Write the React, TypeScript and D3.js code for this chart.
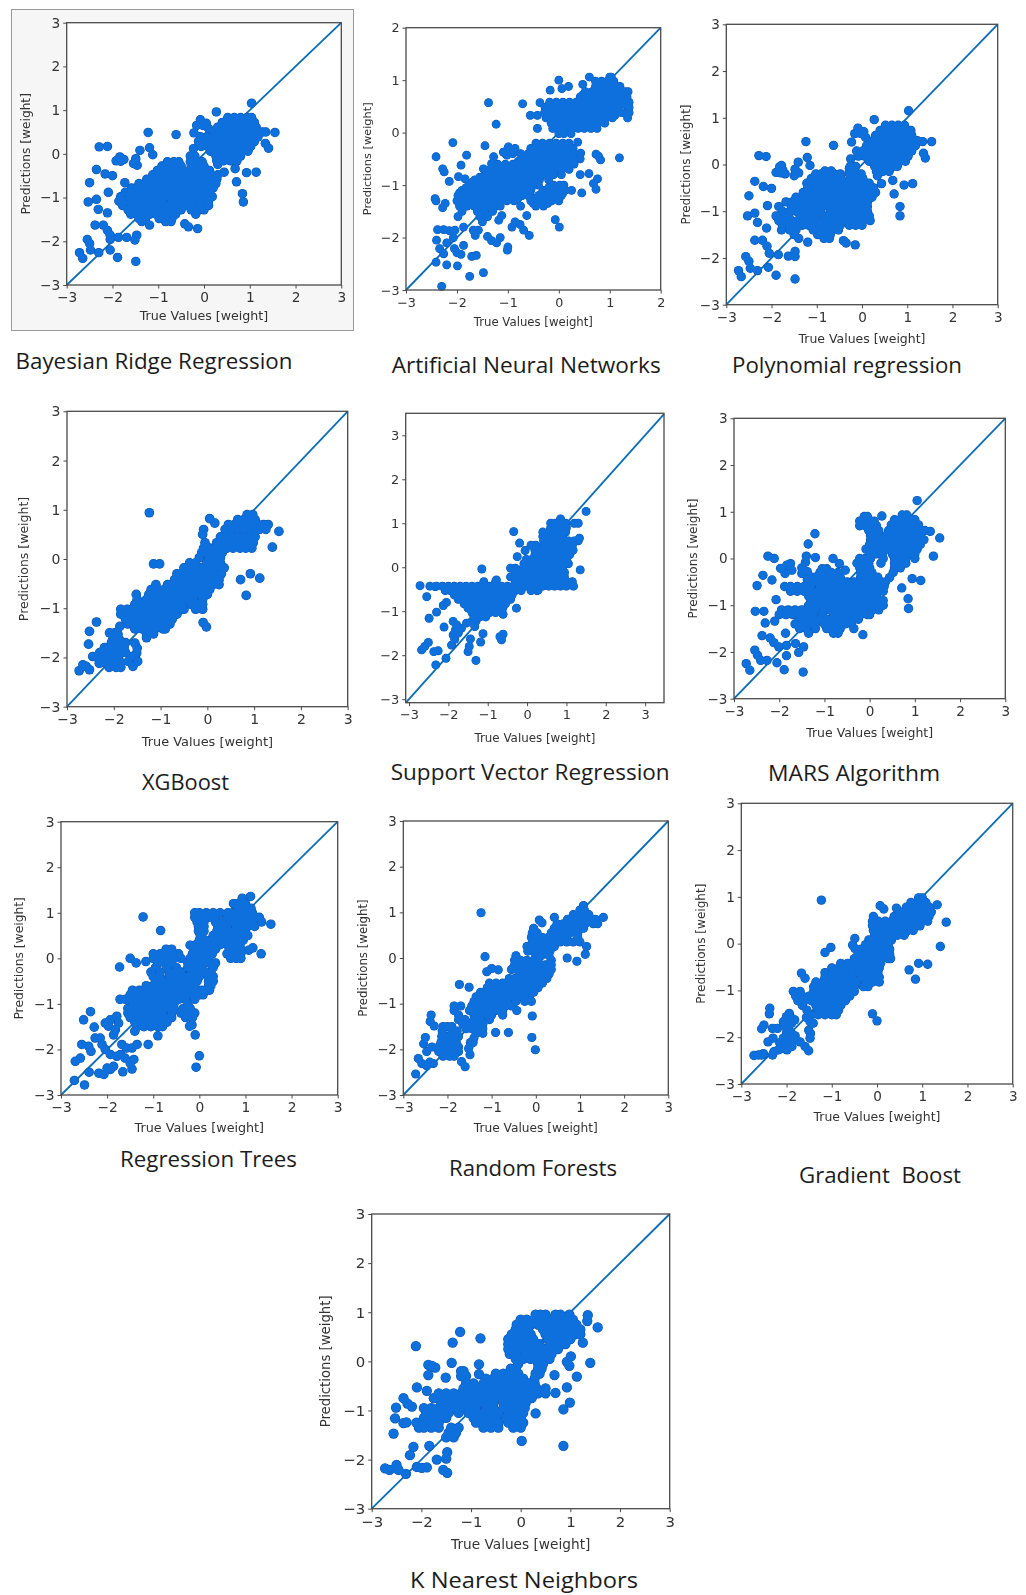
import React, { useEffect, useRef } from 'react';
import * as d3 from 'd3';

// every row is [y, x, x, x ...], loose points are [x, y]
const bayesianRows = [
  [.83,.52,.66,.8,.94,1.04],[.72,.4,.54,.68,.82,.96,1.1],[.61,.3,.44,.58,.72,.86,1,1.14],
  [.5,.22,.36,.5,.64,.78,.92,1.06,1.2,1.28],[.39,-.08,.06,.2,.34,.48,.62,.76,.9,1.04,1.18],
  [.28,-.12,.02,.16,.3,.44,.58,.72,.86,1,1.1],[.17,-.06,.08,.22,.36,.5,.64,.78,.92,1.02],
  [.06,.14,.28,.42,.56,.7,.84,.96],[-.05,-.3,-.2,.26,.4,.54,.68,.8],[-.16,.28,.42,.58,.72],[-.24,.3],
  [-.18,-.8,-.66,-.55,-.3,-.16,-.04],[-.28,-.92,-.78,-.64,-.5,-.28,-.14,0],
  [-.38,-1.02,-.88,-.74,-.6,-.46,-.3,-.16,-.02,.12],[-.48,-1.12,-.98,-.84,-.7,-.56,-.42,-.28,-.14,0,.14,.3],
  [-.58,-1.25,-1.1,-.96,-.82,-.68,-.54,-.4,-.26,-.12,.04,.18,.28],
  [-.68,-1.42,-1.28,-1.14,-1,-.86,-.72,-.58,-.44,-.3,-.16,-.02,.12,.26],
  [-.78,-1.58,-1.44,-1.3,-1.16,-1.02,-.88,-.74,-.6,-.46,-.32,-.18,-.04,.1,.2],
  [-.88,-1.72,-1.58,-1.44,-1.3,-1.16,-1,-.86,-.72,-.58,-.44,-.3,-.16,-.02,.12],
  [-.98,-1.82,-1.62,-1.48,-1.34,-1.2,-1.06,-.92,-.78,-.64,-.5,-.36,-.22,-.08,.06,.18],
  [-1.08,-1.86,-1.7,-1.52,-1.38,-1.22,-1.06,-.92,-.7,-.56,-.42,-.28,-.14,0,.1],
  [-1.18,-1.78,-1.58,-1.4,-1.26,-1.12,-.98,-.84,-.7,-.56,-.42,-.28,-.1,.1],
  [-1.28,-1.66,-1.48,-1.34,-1.2,-1.06,-.92,-.78,-.64,-.5,-.28,-.14,0],
  [-1.38,-1.6,-1.46,-1.32,-1.18,-1.04,-.9,-.76,-.62,-.18],[-1.48,-1.42,-1.28,-.98,-.84,-.7],[-1.55,-.84,-.72],
];
const bayesianLoose = [
  [1.04,1.16],[.27,.96],[1.55,.49],[1.35,.5],[-1.22,.49],[-.61,.44],[-2.29,.16],[-2.11,.17],[-1.19,.14],[-1.4,.08],[-1.12,-.02],
  [1.34,.24],[1.41,.13],[-1.84,-.07],[-1.75,-.13],[-1.92,-.16],[-1.82,-.17],[-1.49,-.11],[-1.54,-.22],[-1.46,-.26],[-2.35,-.36],
  [-2.16,-.46],[-2,-.5],[-2.5,-.66],[-2.09,-.88],[-1.73,-.66],[-2.53,-1.1],[-2.35,-1.04],[-2.31,-1.27],[-2.11,-1.35],[-2.38,-1.63],
  [-2.2,-1.63],[-2.11,-1.75],[-2.05,-1.86],[-2.05,-1.96],[-1.87,-1.91],[-1.69,-1.91],[-1.51,-1.97],[-1.47,-1.86],[-2.55,-1.96],
  [-2.5,-2.05],[-2.48,-2.2],[-2.3,-2.26],[-2.05,-2.2],[-2.72,-2.26],[-2.65,-2.39],[-1.89,-2.37],[-1.49,-2.46],[-.42,-1.6],[-.34,-1.67],
  [-.14,-1.71],[-1.19,-1.63],[-1.36,-1.55],[.71,-.64],[.68,-.34],[.93,-.43],[1.14,-.42],[.84,-.91],[.86,-1.1],[.44,-.42],
  [-.08,.78],[-.16,.65],[-.02,.65],[.1,.58],[.05,.7],[-.22,.48],[-.23,.12],[-.25,-.07],
];

const annRows = [
  [1.06,1,1.03],[.98,.72,.84,.96,1.08],[.88,.72,.84,.96,1.08,1.2],[.78,.52,.65,.78,.91,1.04,1.17,1.3,1.36],
  [.73,.48,.61,.74,.87,1,1.13,1.26],
  [.68,.42,.55,.68,.81,.94,1.07,1.2,1.34],[.58,-.18,-.05,.08,.21,.34,.47,.6,.73,.86,.99,1.12,1.24,1.38],
  [.53,-.1,.04,.17,.3,.43,.56,.69,.82,.95,1.08,1.2,1.32],
  [.48,-.27,-.14,-.01,.12,.25,.38,.51,.64,.77,.9,1.03,1.16,1.38],[.43,-.2,-.07,.06,.19,.32,.45,.58,.71,.84,.97,1.1],
  [.38,-.28,-.15,-.02,.11,.24,.37,.5,.63,.76,.89,1.02,1.15,1.24,1.38],[.33,-.18,-.05,.08,.21,.34,.47,.6,.73,.86,.99,1.1],
  [.28,-.25,-.12,.01,.14,.27,.4,.53,.66,.79,.92,1.05,1.35],[.23,-.08,.05,.18,.31,.44,.57,.7,.83],[.18,-.15,-.02,.11,.24,.37,.5,.63,.76,.9],
  [.13,-.05,.08,.2,.33,.46,.58,.7],[.08,-.12,0,.12,.25,.38,.5,.63,.75],[-.02,0,.1,.24],
  [-.2,-.45,-.32,-.18,-.05,.08,.2],[-.3,-1,-.86,-.55,-.42,-.28,-.14,0,.14,.28],[-.35,-.5,-.36,-.22,-.08,.06,.2],
  [-.4,-1.05,-.9,-.75,-.6,-.46,-.32,-.18,-.04,.1,.22,.3],[-.45,-.65,-.5,-.37,-.23,-.09,.05,.18],
  [-.5,-.72,-.58,-.44,-.3,-.16,-.02,.12,.28],[-.55,-.8,-.66,-.52,-.38,-.24,-.1,.04,.18],[-.6,-1.2,-1.05,-.9,-.76,-.62,-.48,-.34,-.2,-.06,.08,.22,.3],
  [-.65,-1.27,-1.13,-.99,-.85,-.71,-.57,-.43,-.29,-.15,-.01,.13],
  [-.7,-1.35,-1.2,-1.06,-.92,-.78,-.64,-.5,-.36,-.22,-.08,.06,.2],[-.75,-1.4,-1.26,-1.12,-.98,-.84,-.7,-.56,-.42,-.28,-.14],
  [-.8,-1.45,-1.3,-1.16,-1.02,-.88,-.74,-.6,-.46,-.32,-.18,-.1,.05],[-.85,-1.55,-1.41,-1.27,-1.13,-.99,-.85,-.71,-.57,-.43],
  [-.9,-1.65,-1.5,-1.36,-1.22,-1.08,-.94,-.8,-.66,-.52,-.38,-.2],[-.95,-1.7,-1.53,-1.39,-1.25,-1.11,-.97,-.83,-.69,-.55],
  [-1,-1.75,-1.6,-1.46,-1.32,-1.18,-1.04,-.9,-.76,-.62,-.48,-.4,-.1,.02,.1],[-1.05,-1.82,-1.68,-1.53,-1.39,-1.25,-1.11,-.97,-.83,-.69,-.2,-.05,.1],
  [-1.1,-1.9,-1.75,-1.6,-1.46,-1.32,-1.18,-1.04,-.9,-.76,-.62,-.55,-.3,-.16,-.02,.12,.25],
  [-1.15,-1.95,-1.8,-1.66,-1.52,-1.38,-1.24,-1.1,-.96,-.82,-.68,-.33,-.19,-.05,.08],
  [-1.2,-1.98,-1.84,-1.7,-1.56,-1.42,-1.28,-1.14,-1,-.86,-.72,-.6,-.4,-.26,-.12,.05],
  [-1.25,-1.92,-1.78,-1.64,-1.5,-1.36,-1.22,-1.08,-.94,-.8,-.5,-.33,-.2,-.06],
  [-1.3,-2,-1.86,-1.72,-1.58,-1.44,-1.3,-1.16,-1.02,-.88,-.55,-.42,-.28,-.14,0],[-1.35,-1.9,-1.76,-1.62,-1.48,-1.34,-1.2,-.5,-.36,-.22],
  [-1.4,-1.95,-1.8,-1.66,-1.52,-1.38,-1.24,-1.15,-.75,-.45,-.3],[-1.5,-1.9,-1.6,-1.46,-1.3],[-1.6,-1.98,-1.55,-1.4],[-1.7,-1.5],
];
const annLoose = [
  [-1.38,.57],[-.71,.55],[-.37,.57],[-1.23,.16],[-2.08,-.19],[-1.45,-.25],[-2.41,-.46],[-1.81,-.43],[-1.92,-.62],[-2.28,-.69],[-2.25,-.75],
  [-2.15,-.93],[-2.43,-1.26],[-2.41,-1.3],[-2.23,-1.35],[-2.28,-1.43],[-2.38,-1.85],[-2.26,-1.85],[-2.15,-1.87],[-2.04,-1.86],[-2.07,-2],
  [-2.4,-2.05],[-2.2,-2.1],[-2.34,-2.21],[-2.26,-2.31],[-2.05,-2.21],[-2,-2.29],[-1.92,-2.32],[-1.87,-2.15],[-1.71,-2.36],[-1.62,-2.34],
  [-2.41,-2.47],[-2.2,-2.52],[-1.99,-2.54],[-1.75,-2.74],[-1.48,-2.67],[-2.3,-2.93],[-1.4,-1.98],[-1.32,-2.06],[-1.22,-2.1],[-1.15,-2],
  [-1,-2.18],[-1.01,-2.24],[-1.18,-1.67],[-1.12,-1.58],[-.92,-1.8],[-.86,-1.7],[-.76,-1.75],[-.69,-1.86],[-.58,-1.96],[-.63,-1.58],
  [-1.68,-1.86],[-1.58,-1.86],[-1.64,-1.96],[-1.87,-1.8],[-.07,-1.66],[.01,-1.8],[.45,-1.15],[.42,-.8],[.59,-.78],[.76,-.88],[.68,-.97],
  [.73,-1.08],[.73,-.41],[.78,-.45],[.82,-.52],[1.19,-.48],[.43,-.39],[.42,-.5],[.37,-.18],[-.17,.81],[0,1],[.19,.88],[.06,.84],[.47,.92],
  [.6,1.06],[-.56,.33],[-.42,.33],[-.42,.08],[-1.09,-.37],[-.99,-.27],[-1.02,-.43],[-1.28,-.46],[-1.32,-.59],[-1.48,-.69],[-1.97,-.84],[-1.84,-.88],
];

const polyRows = [
  [.84,.52,.66,.8,.94],[.73,.4,.54,.68,.82,.96,1.08],[.62,.3,.44,.58,.72,.86,1,1.1],
  [.51,.24,.38,.5,.64,.78,.92,1.06,1.22],[.4,.1,.22,.34,.48,.62,.76,.9,1.04,1.18],
  [.29,-.12,.02,.16,.3,.44,.58,.72,.86,1,1.1],[.18,-.08,.06,.2,.34,.48,.62,.76,.9,1.02],
  [.07,.16,.3,.44,.58,.7,.84,.96],[-.04,-.26,-.14,.28,.42,.56,.68,.78],[-.15,-.28,.32,.46,.6],[-.24,.34],
  [-.14,-.82,-.68],[-.2,-1.02,-.9,-.76,-.62,-.48,-.28,-.14,-.02],[-.3,-1.12,-1,-.86,-.72,-.58,-.46,-.26,-.12,.02],
  [-.4,-1.22,-1.06,-.92,-.78,-.64,-.5,-.38,-.24,-.1,.06,.16],[-.5,-1.2,-1.02,-.88,-.74,-.6,-.46,-.32,-.18,-.04,.12,.26],
  [-.6,-1.3,-1.14,-1,-.86,-.72,-.58,-.44,-.3,-.16,-.02,.12,.3],[-.7,-1.46,-1.3,-1.16,-1.02,-.88,-.74,-.6,-.46,-.32,-.18,-.04,.1,.22],
  [-.8,-1.68,-1.54,-1.4,-1.26,-1.12,-.98,-.84,-.7,-.56,-.42,-.28,-.14,0,.12],[-.9,-1.84,-1.56,-1.42,-1.28,-1.14,-1,-.86,-.72,-.58,-.44,-.3,-.16,-.02,.12],
  [-1,-1.76,-1.6,-1.46,-1.3,-1.16,-1.02,-.92,-.7,-.56,-.42,-.28,-.14,0,.12],[-1.1,-1.9,-1.76,-1.62,-1.36,-1.2,-1.06,-.84,-.7,-.56,-.42,-.28,-.14,.02,.16],
  [-1.2,-1.84,-1.7,-1.56,-1.42,-1.28,-1.12,-.98,-.84,-.7,-.56,-.42,-.28,-.14,.02,.18],[-1.3,-1.76,-1.6,-1.46,-1.32,-1.18,-1.04,-.9,-.76,-.62,-.48,-.28,-.14,0],
  [-1.4,-1.78,-1.6,-1.46,-1.08,-.94,-.8,-.66,-.52],[-1.5,-1.5,-.98,-.84,-.7],[-1.58,-.84,-.72],
];
const polyLoose = [
  [1.03,1.15],[.27,.96],[1.54,.49],[1.34,.49],[-1.24,.49],[-.63,.41],[-2.28,.19],[-2.12,.17],[-1.21,.15],[-1.15,-.02],[-1.41,.05],
  [-2.37,-.36],[-2.18,-.47],[-2,-.51],[-2.5,-.67],[-2.09,-.88],[-2.53,-1.1],[-2.37,-1.04],[-2.31,-1.24],[-2.11,-1.36],[-2.37,-1.62],
  [-2.2,-1.62],[-2.1,-1.75],[-2.05,-1.9],[-1.85,-1.93],[-1.63,-1.96],[-1.48,-1.86],[-1.48,-1.97],[-2.57,-1.97],[-2.5,-2.07],[-2.47,-2.22],
  [-2.31,-2.27],[-2.07,-2.2],[-2.73,-2.27],[-2.67,-2.4],[-1.9,-2.37],[-1.48,-2.45],[-.41,-1.63],[-.35,-1.68],[-.15,-1.72],[-1.2,-1.66],
  [-1.4,-1.58],[.71,-.63],[.68,-.34],[.93,-.44],[1.12,-.41],[.84,-.9],[.84,-1.1],[.43,-.41],[1.36,.24],[1.4,.14],[-.23,.48],[-.09,.78],
  [-.16,.66],[-.02,.66],[.08,.58],[.04,.7],[-1.82,-.05],[-1.75,-.12],[-1.9,-.17],[-1.8,-.18],[-1.7,-.2],[-1.78,-.02],[-1.48,-.1],[-1.5,-.24],[-1.4,-.18],[-.25,.12],[-.28,-.08],
];

const xgbRows = [
  [.9,.85,.97],[.8,.65,.78,.9,1.02],[.7,.45,.58,.7,.82,.95,1.08,1.2,1.3],[.6,-.08,.38,.5,.62,.75,.88,1,1.12,1.25],
  [.5,-.1],[.45,.28,.4,.52,.65,.78,.9,1.02],[.33,-.05,.2,.35,.5,.65,.78,.9,.98],[.22,-.08,.05,.18,.32,.42,.55,.7,.82,.95],
  [.13,-.12,0,.1,.22,.32],[.03,-.17,.03,.15,.28],[-.08,-.38,-.25,-.02,.12,.28],[-.18,-.5,-.4,-.26,-.12,.02,.16,.28,.36],
  [-.3,-.65,-.55,-.42,-.28,-.14,0,.14,.3],[-.42,-.7,-.56,-.42,-.28,-.14,0,.14,.25],[-.52,-1.1,-.85,-.7,-.56,-.42,-.3,-.16,-.02,.12,.25],
  [-.62,-1.2,-1.06,-.92,-.78,-.64,-.5,-.36,-.22,-.08,.05],[-.72,-1.52,-1.25,-1.12,-.98,-.84,-.7,-.56,-.42,-.28,-.14,0],
  [-.82,-1.5,-1.3,-1.16,-1.02,-.88,-.74,-.6,-.46,-.3,-.1],[-.92,-1.55,-1.41,-1.27,-1.1,-.96,-.82,-.68,-.54,-.35,-.2,-.1],
  [-1.02,-1.85,-1.71,-1.57,-1.43,-1.29,-1.15,-1,-.86,-.72,-.58,-.5,-.25,-.1],[-1.12,-1.85,-1.71,-1.57,-1.43,-1.29,-1.15,-1.01,-.87,-.73,-.65],
  [-1.22,-1.75,-1.6,-1.46,-1.32,-1.18,-1.04,-.9,-.75],[-1.32,-1.7,-1.55,-1.4,-1.26,-1.12,-.98,-.8],[-1.42,-1.55,-1.4,-1.26,-1.12,-.95,-.9],[-1.52,-1.3,-1.15],[-1.6,-1.3],
  [-1.7,-2.05,-1.9,-1.75],[-1.8,-2.2,-2.05,-1.9,-1.78],[-1.9,-2.3,-2.15,-2,-1.85,-1.75],[-2,-2.35,-2.2,-2.05,-1.9],[-2.1,-2.2,-2,-1.85],[-2.2,-2.1,-1.95,-1.85],
];
const xgbLoose = [
  [-1.24,.94],[1.53,.56],[1.39,.24],[.71,-.42],[.92,-.3],[1.12,-.39],[.83,-.74],[-1.15,-.1],[-1.02,-.1],[-.09,-1.29],[-.02,-1.38],[-2.37,-1.28],
  [-2.52,-1.47],[-2.54,-1.73],[.05,.82],[.16,.73],[-2.74,-2.27],[-2.66,-2.15],[-2.52,-2.25],[-2.59,-2.18],[-1.87,-1.37],[-2.09,-1.5],[-1.98,-1.5],
  [-1.91,-1.53],[-2.02,-1.64],[-1.88,-1.64],[-1.81,-1.71],[-1.95,-1.74],[-1.81,-1.84],[-2.1,-1.88],[-2.24,-1.88],[-2.38,-1.98],[-1.98,-1.95],
  [-2.17,-2.02],[-2.31,-2.12],[-2.1,-2.12],[-1.95,-2.15],[-2.45,-1.98],[-1.55,-1.71],[-1.5,-1.81],[-1.51,-1.91],[-1.62,-1.98],[-1.69,-2.08],[-1.59,-2.18],[-1.49,-2.08],
];

const svrRows = [
  [-.43,-2.3,-2.15,-2,-1.85,-1.7,-1.55,-1.4,-1.25,-1.1,-.95,-.8,-.65,-.5,-.35,-.2,-.05,.1,.25,.4,.55,.7,.85,1,1.18],
  [-.53,-2.08,-1.95,-1.8,-1.65,-1.5,-1.35,-1.2,-1.05,-.9,-.75,-.6,-.45,-.3,-.15,.1,.25],[-.63,-1.85,-1.7,-1.55,-1.4,-1.25,-1.1,-.95,-.8,-.65,-.5,-.38],
  [-.73,-1.75,-1.6,-1.45,-1.3,-1.15,-1,-.85,-.7,-.55,-.42],[-.83,-1.6,-1.45,-1.3,-1.15,-1,-.85,-.7,-.55],[-.93,-1.5,-1.35,-1.2,-1.05,-.9,-.75,-.62],
  [-1.03,-1.4,-1.25,-1.1,-.95,-.8,-.65],[-1.13,-1.35,-1.2,-1.05],[-1.23,-1.4,-1.3],
  [-.33,-1.1,-.8,-.3,-.15,0,.1,.25,.4,.55,.7,.85,1,1.15],[-.22,-.42,-.28,-.1,.1,.3,.5,.65,.8,.95],[-.12,-.3,-.15,-.02,.1,.25,.38,.5,.65,.8,.95],
  [-.02,-.42,-.3,-.1,.02,.15,.3,.45,.6,.75,.9],[.08,-.08,.05,.2,.35,.48,.62,.75,.9,1.05],[.18,-.02,.12,.28,.42,.56,.7,.85,1],
  [.28,.2,.35,.5,.62,.78,.92,1.08],[.38,-.05,.2,.32,.5,.62,.75,.9,1.05,1.15],[.5,.1,.22,.42,.55,.7,.85,1,1.15],[.6,.42,.55,.7,.85,1.05,1.2,1.3],
  [.7,.4,.5,.6,.75,.9],[.8,.4,.55,.7,.85,.98],[.9,.6,.72,.85,1],[1,.6,.72,.85,.98,1.2,1.3],[1.1,.85],
];
const svrLoose = [
  [1.5,1.27],[-.34,.81],[-.19,.55],[-.25,.24],[-1.15,-.04],[1.35,-.06],[-2.72,-.42],[-2.55,-.67],[-2.3,-1.02],[-2.49,-1.16],[-2.11,-1.36],
  [-2.51,-1.71],[-2.6,-1.8],[-2.68,-1.88],[-2.37,-1.92],[-2.26,-1.9],[-2.32,-2.22],[-2.06,-2.07],[-1.3,-2.12],[-1.5,-1.92],[-1.47,-1.8],[-1.44,-1.63],
  [-1.18,-1.7],[-1.12,-1.51],[-.69,-1.58],[-.61,-1.52],[-.65,-1.65],[-2.47,-.43],[-2.34,-.44],[-2.05,-.8],[-2.13,-.87],[-.27,-.93],[-.61,-1.07],
  [.28,-.52],[-.78,-.29],[-1.88,-1.23],[-1.79,-1.31],[-1.88,-1.54],[-1.75,-1.5],[-1.92,-1.77],[-1.67,-1.39],[-1.54,-1.27],[-1.33,-1.35],[-1.82,-1.42],[-1.84,-1.64],[1.33,.66],[1.17,.39],
];

const marsRows = [
  [.9,-.12,-.05],[.8,-.22,-.1,.02,.1],[.7,-.22,-.1,.02,.15],[.6,-.02,.1,.2],[.5,.02,.12,.2],[.4,.02,.12,.2],
  [.93,.72,.82],[.83,.55,.68,.8,.92,1],[.72,.48,.6,.72,.85,.98,1.08],[.6,.42,.55,.68,.8,.92,1.05,1.15,1.22],[.5,.38,.5,.62,.75,.88,1,1.12],
  [.4,.3,.42,.55,.68,.8,.95,1.08,1.2],[.3,0,.12,.25,.38,.5,.62,.75,.88,1.02,1.12],[.2,-.08,.02,.15,.28,.42,.55,.68,.8,.95,1.05],
  [.1,.02,.15,.28,.5,.62,.75,.88,1],[0,-.22,-.1,.02,.3,.55,.68,.8,1],[-.1,-.28,-.15,-.02,.25,.55,.68,.8],[-.2,-.22,-.1,0,.55,.68],[-.3,-.2,-.08,.05,.52],
  [-.22,-1.05,-.95],[-.3,-1.1,-.98,-.85,-.7],[-.4,-1.2,-1.05,-.9,-.78,-.65,-.2,-.08,.05,.18],[-.5,-1.22,-1.1,-.95,-.8,-.65,-.5,-.35,-.2,-.05,.1,.25,.35],
  [-.6,-1.88,-1.75,-1.6,-1.45,-1.3,-1.1,-.95,-.8,-.65,-.5,-.35,-.2,-.05,.1,.25,.32],[-.7,-1.75,-1.6,-1.45,-1.3,-1.15,-1,-.85,-.7,-.55,-.4,-.25,-.1,.05,.2,.3],
  [-.8,-1.35,-1.2,-1.05,-.9,-.75,-.6,-.45,-.3,-.15,0,.15],[-.9,-1.3,-1.15,-1,-.85,-.7,-.55,-.4,-.25,-.1,.05,.2,.3],
  [-1,-1.35,-1.2,-1.05,-.9,-.75,-.6,-.45,-.3,-.15,0,.15,.3],[-1.1,-1.95,-1.8,-1.65,-1.5,-1.35,-1.2,-1.02,-.88,-.75,-.6,-.45,-.3,-.15,.05,.2],
  [-1.2,-2,-1.85,-1.7,-1.55,-1.4,-1.25,-1.05,-.8,-.65,-.5,-.35,-.2,-.05,0],[-1.3,-1.55,-1.4,-1.25,-1.1,-.95,-.8,-.65,-.5,-.35,-.25],
  [-1.4,-1.65,-1.5,-1.35,-1.2,-1,-.85,-.7,-.55,-.4],[-1.5,-1.55,-1.4,-1.2,-.95,-.8,-.65,-.35],[-1.6,-1.35,-.8,-.7],
];
const marsLoose = [
  [1.05,1.24],[.27,.91],[-1.21,.53],[-1.36,.31],[1.55,.44],[1.34,.58],[1.41,.05],[.94,-.43],[1.13,-.47],[.71,-.63],[.85,-.86],[.86,-1.07],[.44,-.41],
  [-.15,-1.63],[-2.25,.05],[-2.11,0],[-1.2,.02],[-.81,0],[-.67,-.11],[-.54,-.25],[-2.36,-.36],[-2.16,-.46],[-2.49,-.58],[-2.07,-.88],[-2.53,-1.13],
  [-2.34,-1.13],[-2.31,-1.38],[-2.1,-1.34],[-1.86,-1.6],[-2.38,-1.65],[-2.2,-1.7],[-2.12,-1.8],[-2.01,-1.89],[-1.84,-1.86],[-1.64,-1.82],[-1.46,-1.89],
  [-1.57,-2.01],[-1.84,-2.08],[-2.54,-1.96],[-2.48,-2.07],[-2.41,-2.18],[-2.27,-2.18],[-2.73,-2.25],[-2.65,-2.39],[-2.05,-2.23],[-1.89,-2.38],[-1.47,-2.43],
  [-1.97,-.21],[-1.83,-.14],[-1.75,-.11],[-1.72,-.25],[-1.87,-.32],[-1.4,.05],[-1.42,-.08],[-1.5,-.2],[-1.5,-.32],[-1.38,-.28],[-1.28,-.4],[-1.38,-.45],
];

const treeRows = [
  [1.2,.8,.9,1],[1.1,.85,1,1.12],[1,-.1,0,.15,.3,.45,.62,.72,.85,1,1.15],[.9,-.1,.03,.2,.35,.6,.75,.9,1.05,1.2,1.3],[.8,-.05,.1,.35,.5,.68,.85,1,1.15,1.35],
  [.7,-.02,.1,.4,.5,.6,.8,.95,1.05,1.2],[.6,-.02,.1,.38,.5,.62,.75,.9,1],[.5,.02,.3,.42,.58,.7,.8,.95,1.05],[.4,0,.12,.25,.42,.55,.7,.8,.95],
  [.3,-.07,.05,.18,.32,.45,.6,.72,.88],[.2,-.72,-.6,-.1,.05,.2,.35,.65,.78,.9],[.1,-1,-.85,-.72,-.6,-.45,-.15,0,.15,.28,.6,.72,.9],
  [0,-1,-.85,-.7,-.55,-.4,-.2,-.05,.1,.2,.68,.8,.9],[-.1,-.9,-.75,-.6,-.25,-.1,.05,.2,.35],[-.2,-.95,-.7,-.5,-.25,-.1,.05,.3],
  [-.3,-1.05,-.85,-.65,-.5,-.4,-.15,0,.12,.25],[-.4,-1,-.85,-.65,-.5,-.35,-.25,-.1,0,.2,.3],[-.5,-.95,-.8,-.65,-.5,-.35,-.2,-.05,.2,.3],
  [-.6,-1.15,-1,-.85,-.7,-.55,-.4,-.25,-.1,.2,.25],[-.7,-1.45,-1.3,-1.15,-1,-.85,-.7,-.55,-.4,-.25,-.1,.05,.15,.22],
  [-.8,-1.5,-1.35,-1.2,-1.05,-.9,-.75,-.6,-.45,-.3,-.15,0,.08],[-.9,-1.72,-1.6,-1.45,-1.3,-1.15,-1,-.85,-.7,-.55,-.45,-.3,-.1],
  [-1,-1.45,-1.3,-1.15,-1,-.85,-.7,-.55,-.25],[-1.1,-1.55,-1.4,-1.25,-1.1,-.95,-.8,-.65,-.55,-.35,-.2],[-1.2,-1.55,-1.4,-1.25,-1.1,-.95,-.8,-.6,-.4,-.25,-.1],
  [-1.3,-1.5,-1.35,-1.2,-1.05,-.9,-.75,-.6,-.3,-.15],[-1.4,-1.4,-1.25,-1.1,-.95,-.8,-.7],[-1.5,-1.35,-1.2,-1.05,-.9,-.8],[-1.6,-1.4],
];
const treeLoose = [
  [-1.22,.91],[-.84,.61],[1.55,.75],[1.34,.1],[1.07,.18],[1.16,.23],[-1.73,-.19],[-1.5,0],[-1.37,-.1],[-1.16,-.07],[-2.36,-1.17],[-2.51,-1.35],[-2.28,-1.51],
  [-.9,-1.7],[-1.11,-1.89],[-.09,-1.68],[0,-2.14],[-.07,-2.39],[-.16,-1.46],[-.21,-1.49],[-.2,.29],[-2.71,-2.68],[-2.49,-2.78],[-2.39,-2.5],[-2.69,-2.26],
  [-2.58,-2.19],[-1.66,-2.49],[-1.46,-2.43],[-1.5,-2.3],[-1.61,-2.19],[-1.42,-2.22],[-1.35,-1.89],[-1.46,-1.97],[-1.68,-1.89],[-1.58,-1.97],[-2.18,-2.52],
  [-2.07,-2.55],[-2,-2.41],[-1.86,-2.37],[-1.93,-2.44],[-2.55,-1.89],[-2.4,-1.93],[-2.35,-2.04],[-2.15,-1.75],[-2.26,-1.75],[-2.11,-1.89],[-2.04,-2],[-1.93,-2.11],
  [-1.79,-2.15],[-1.71,-2.11],[-2.04,-1.42],[-1.93,-1.35],[-1.97,-1.49],[-1.82,-1.57],[-1.86,-1.68],[-1.79,-1.27],[-1.75,-1.42],[.93,1.32],[1.11,1.36],[.74,1.2],
];

const forestRows = [
  [1.15,1.08],[1.05,1,1.1],[.95,.85,.98,1.1,1.2],[.85,.72,.85,.98,1.1,1.25,1.35],[.75,.48,.62,.75,.88,1,1.12,1.3,1.4],[.65,-.05,.42,.55,.68,.8,.95,1.08],
  [.55,-.08,.03,.35,.48,.62,.78,.95],[.45,-.1,.02,.15,.28,.4,.55,.7,.95],[.35,-.08,.03,.15,.28,.42,.55,.7,.85,1],[.25,-.2,-.08,.05,.18,.3,.42],
  [.15,-.18,-.05,.08,.2,.32],[.05,-.45,0,.12,.3],[-.05,-.48,-.35,-.2,-.05,.05,.35],[-.15,-.48,-.35,-.2,-.05,.1,.22,.35],[-.25,-.55,-.4,-.25,-.1,.05,.2,.35],
  [-.35,-.38,-.25,-.1,.05,.2,.3],[-.45,-.6,-.48,-.35,-.2,-.05,.1,.25],[-.55,-1.05,-.9,-.75,-.62,-.5,-.35,-.2,-.05,.1,.15],[-.65,-1.1,-.95,-.8,-.65,-.5,-.35,-.2,-.05,.05],
  [-.75,-1.25,-1.1,-.95,-.8,-.65,-.5,-.35,-.2,-.05],[-.85,-1.35,-1.2,-1.05,-.9,-.75,-.6,-.45,-.3,-.15],[-.95,-1.4,-1.25,-1.1,-.95,-.8,-.65,-.45,-.25,-.1],
  [-1.05,-1.85,-1.7,-1.45,-1.3,-1.15,-1,-.85,-.7,-.55],[-1.15,-1.85,-1.5,-1.35,-1.2,-1.05,-.9,-.75],[-1.25,-1.75,-1.4,-1.25,-1.1,-1,-.75],[-1.35,-1.75,-1.6,-1.4,-1.25,-1.05],
  [-1.45,-1.65,-1.5,-1.35,-1.2],[-1.55,-1.58,-1.45,-1.3,-1.2],[-1.65,-1.35,-1.2],[-1.75,-1.4],[-1.85,-1.48,-1.42],
  [-1.5,-2.1,-2,-1.9],[-1.6,-2.12,-1.9,-1.78],[-1.72,-2.13,-2,-1.85,-1.75],[-1.85,-2.15,-2.05,-1.95,-1.8],[-1.95,-2.35,-2.2,-2.05,-1.9,-1.75],[-2.05,-2.2,-2.05,-1.9,-1.75],[-2.15,-2.1,-1.95,-1.85],
];
const forestLoose = [
  [-1.24,.99],[-1.15,.03],[-1.73,-.58],[-1.51,-.64],[-.91,-1.63],[-.62,-1.63],[-.43,-1.15],[-.08,-1.27],[-.09,-1.74],[-.01,-2.01],[.71,0],[.93,-.07],[1.12,.08],[1.15,.25],
  [-2.72,-2.54],[1.53,.89],[.08,.83],[.14,.77],[.42,.89],[-2.37,-1.25],[-2.39,-1.39],[-2.3,-1.49],[-2.5,-1.74],[-2.54,-1.88],[-2.47,-2.05],[-2.66,-2.2],[-2.58,-2.31],
  [-2.47,-2.36],[-2.32,-2.31],[-2.4,-2.28],[-1.68,-2.27],[-1.6,-2.38],[-1.49,-2.12],[-1.52,-1.98],[-1.45,-1.87],[-1.11,-.3],[-1,-.23],[-.85,-.26],
];

const gradientRows = [
  [.98,.92,1],[.88,.75,.88,1,1.08],[.78,.65,.78,.9,1.02,1.15],[.68,.5,.62,.75,.88,1,1.12,1.2],[.58,-.08,.38,.5,.62,.75,.88,1,1.15],
  [.48,-.1,.03,.18,.32,.45,.58,.72,.85,1,1.12],[.38,-.1,.03,.15,.28,.42,.55,.68,.82,.95],[.28,-.08,.05,.18,.3,.42,.55,.68,.8],[.18,-.05,.08,.2,.32,.45,.6],
  [.08,-.18,-.05,.08,.2,.32],[-.02,-.25,-.12,0,.12,.25],[-.12,-.35,-.22,-.1,.05,.2,.28],[-.22,-.42,-.3,-.15,0,.15,.28],[-.32,-.5,-.35,-.2,-.05,.1,.25,.3],
  [-.42,-.8,-.65,-.5,-.35,-.2,-.05,.08],[-.52,-1,-.85,-.7,-.55,-.4,-.25,-.1,.05],[-.62,-1.15,-.98,-.85,-.7,-.55,-.4,-.25,-.1,.02],
  [-.72,-1.15,-1,-.85,-.7,-.55,-.35,-.2,-.05,.05],[-.82,-1.35,-1.2,-1.05,-.9,-.75,-.6,-.45,-.25,-.1,.05],[-.92,-1.4,-1.25,-1.1,-.95,-.8,-.65,-.5,-.3,-.2],
  [-1.02,-1.85,-1.7,-1.4,-1.25,-1.1,-.95,-.8,-.65,-.5],[-1.12,-1.8,-1.65,-1.5,-1.35,-1.2,-1.05,-.9,-.75,-.6],[-1.22,-1.75,-1.6,-1.45,-1.3,-1.15,-1,-.85,-.7],
  [-1.32,-1.65,-1.35,-1.2,-1.05,-.9,-.8],[-1.42,-1.3,-1.15,-1,-.85],[-1.52,-1.45,-1.3,-1.15,-1,-.9],
  [-1.6,-1.95,-1.88],[-1.75,-2.05,-1.95],[-1.9,-2,-1.9],[-2.12,-2.15,-2.05,-1.92],
];
const gradientLoose = [
  [-1.23,.93],[1.33,.83],[1.53,.46],[1.4,-.06],[.71,-.56],[.92,-.42],[1.12,-.44],[.85,-.76],[-.1,-1.5],[0,-1.65],[-1.15,-.19],[-1.02,-.08],[-.49,.11],[-.54,-.03],[-.49,-.1],
  [-2.37,-1.38],[-2.38,-1.5],[-2.5,-1.74],[-2.55,-1.82],[.07,.81],[.15,.74],[.43,.76],[-1.67,-.63],[-1.59,-.74],[-2.72,-2.39],[-2.62,-2.38],[-2.55,-2.38],[-2.51,-2.35],
  [-2.31,-2.38],[-2.28,-2.31],[-2.41,-2.1],[-2.3,-2.02],[-2.31,-1.81],[-2.2,-1.81],[-2.07,-1.67],[-2,-1.56],[-1.94,-1.49],[-1.89,-1.7],[-1.82,-1.63],[-2.1,-2.24],[-1.99,-2.17],
  [-1.95,-2.06],[-1.84,-2.06],[-1.88,-2.2],[-1.99,-2.27],[-2.18,-2.27],[-1.81,-1.97],[-2.07,-2.02],[-1.59,-2.2],[-1.51,-2.29],[-1.7,-2.1],[-1.48,-2.02],[-1.47,-1.92],[-1.51,-1.85],
  [-1.41,-1.7],[-1.48,-1.67],[-1.56,-1.58],[-1.55,-1.42],
];

const knnRows = [
  [.95,.3,.4,.5,.7,.8,.98],[.85,0,.12,.28,.4,.55,.68,.8,.95,1.05],[.75,-.08,.05,.2,.35,.5,.62,.75,.9,1.02,1.12],[.65,-.1,.02,.15,.45,.58,.72,.85,1,1.12,1.2],
  [.55,-.18,-.05,.08,.2,.5,.65,.8,.95,1.08,1.2],[.45,-.25,-.12,0,.12,.25,.55,.7,.85,1],[.35,-.25,-.12,0,.12,.25,.38,.6,.72,.9],[.25,-.25,-.1,.05,.2,.35,.48,.62,.75],
  [.15,-.22,-.1,.08,.2,.35,.5,.62],[.05,-.1,.05,.2,.35,.48,.58],[-.05,-.05,.35,.45],[-.15,-.2,-.1,.35,.42],[-.25,-.5,-.35,-.2,-.05,.3,.38],
  [-.2,-1.2,-1.15],[-.3,-1.2,-1.1],[-.35,-.7,-.55,-.4,-.25,-.1,.05,.28],[-.45,-1.1,-.95,-.75,-.6,-.45,-.3,-.15,0,.15,.28],
  [-.55,-1.15,-1,-.85,-.7,-.55,-.4,-.25,-.1,.03,.2,.32,.5],[-.65,-1.65,-1.5,-1.35,-1.2,-1.05,-.9,-.75,-.6,-.45,-.35,-.2,-.05,.1,.25,.35,.5],
  [-.75,-1.75,-1.6,-1.45,-1.3,-1.15,-1,-.85,-.7,-.55,-.4,-.25,-.1,.05,.22],[-.85,-1.6,-1.45,-1.3,-1.15,-1,-.85,-.7,-.55,-.35,-.2,-.05,.1],
  [-.95,-1.95,-1.8,-1.65,-1.5,-1.35,-1.2,-1.05,-.9,-.7,-.55,-.35,-.2,-.05,.08],[-1.05,-1.9,-1.75,-1.6,-1.45,-1.25,-1.05,-.9,-.75,-.6,-.45,-.25,-.1,.05],
  [-1.15,-1.95,-1.8,-1.65,-1.5,-.95,-.8,-.65,-.5,-.3,-.15,0],[-1.25,-2.1,-1.95,-1.8,-1.65,-.9,-.75,-.6,-.45,-.25,-.1,.05],
  [-1.35,-2.05,-1.95,-1.8,-1.65,-1.4,-1.25,-.75,-.6,-.45,-.15,0],[-1.45,-1.45,-1.3],[-1.55,-1.5,-1.35],
];
const knnLoose = [
  [-2.11,.31],[-1.22,.6],[-1.37,.38],[-.81,.47],[-1.39,-.03],[-.84,-.06],[-.84,-.26],[-1.51,-.33],[-1.86,-.28],[-1.86,-.07],[-1.79,-.09],[-1.72,-.13],[-2.09,-.53],[-1.89,-.6],
  [-2.56,-1.47],[-2.53,-1.16],[-2.36,-1.26],[-2.3,-1.24],[-2.51,-.94],[-2.36,-.75],[-2.28,-.86],[-2.19,-.92],[.02,-1.62],[.86,-1.72],[.3,-1.06],[.86,-.98],[.99,-.84],[.93,-.53],
  [.7,-.64],[.68,-.28],[1.13,-.31],[1.4,-.03],[.93,-.01],[1.01,.1],[.98,-.09],[1.25,.38],[1.55,.69],[1.35,.94],[1.34,.82],[-2.16,-1.74],[-2.23,-1.91],[-1.84,-1.72],[-1.69,-2],
  [-1.48,-1.85],[-1.5,-1.98],[-1.56,-2.21],[-1.48,-2.27],[-2.09,-2.15],[-1.89,-2.16],[-1.99,-2.17],[-2.73,-2.18],[-2.64,-2.21],[-2.5,-2.11],[-2.46,-2.21],[-2.31,-2.29],
];

const tickValuesA = [-3, -2, -1, 0, 1, 2, 3];
const tickValuesB = [-3, -2, -1, 0, 1, 2];
const xAxisLabel = 'True Values [weight]';
const yAxisLabel = 'Predictions [weight]';

const expand = (rows: number[][], loose: number[][]) =>
  rows.flatMap(([y, ...xs]) => xs.map(x => [x, y])).concat(loose);

// box = left, right, top, bottom; title = x, baseline, width
const panels = [
  { name: 'Bayesian Ridge Regression', rows: bayesianRows, loose: bayesianLoose, box: [66.7, 341.3, 22.7, 285], xDom: [-3, 3], yDom: [-3, 3], xt: tickValuesA, yt: tickValuesA, title: [15.5, 369, 277], ylabelOff: 40.7, xlabelOff: 31 },
  { name: 'Artificial Neural Networks', rows: annRows, loose: annLoose, box: [406, 660.7, 27.7, 290], xDom: [-3, 2], yDom: [-3, 2], xt: tickValuesB, yt: tickValuesB, title: [391.7, 372.7, 269], ylabelOff: 39, xlabelOff: 32 },
  { name: 'Polynomial regression', rows: polyRows, loose: polyLoose, box: [726.3, 997.7, 24.3, 304.7], xDom: [-3, 3], yDom: [-3, 3], xt: tickValuesA, yt: tickValuesA, title: [732, 372.7, 230], ylabelOff: 41, xlabelOff: 34 },
  { name: 'XGBoost', rows: xgbRows, loose: xgbLoose, box: [67, 347.7, 411.3, 706.7], xDom: [-3, 3], yDom: [-3, 3], xt: tickValuesA, yt: tickValuesA, title: [142, 790, 87], ylabelOff: 43, xlabelOff: 35 },
  { name: 'Support Vector Regression', rows: svrRows, loose: svrLoose, box: [405.7, 664, 413.3, 702.7], xDom: [-3.085, 3.48], yDom: [-3.08, 3.5], xt: tickValuesA, yt: tickValuesA, title: [390.7, 780, 279], ylabelOff: 0, xlabelOff: 35 },
  { name: 'MARS Algorithm', rows: marsRows, loose: marsLoose, box: [734, 1005.3, 418.3, 698.7], xDom: [-3, 3], yDom: [-3, 3], xt: tickValuesA, yt: tickValuesA, title: [768, 781, 172], ylabelOff: 41, xlabelOff: 33.6 },
  { name: 'Regression Trees', rows: treeRows, loose: treeLoose, box: [61, 337.7, 821.7, 1095], xDom: [-3, 3], yDom: [-3, 3], xt: tickValuesA, yt: tickValuesA, title: [120, 1166.7, 177], ylabelOff: 42, xlabelOff: 33 },
  { name: 'Random Forests', rows: forestRows, loose: forestLoose, box: [403.3, 668.3, 821, 1095], xDom: [-3, 3], yDom: [-3, 3], xt: tickValuesA, yt: tickValuesA, title: [449, 1176, 168], ylabelOff: 40, xlabelOff: 33 },
  { name: 'Gradient  Boost', rows: gradientRows, loose: gradientLoose, box: [741.3, 1012.7, 803.3, 1084], xDom: [-3, 3], yDom: [-3, 3], xt: tickValuesA, yt: tickValuesA, title: [799, 1183, 162], ylabelOff: 41, xlabelOff: 33 },
  { name: 'K Nearest Neighbors', rows: knnRows, loose: knnLoose, box: [371.7, 669.7, 1214, 1508.7], xDom: [-3, 3], yDom: [-3, 3], xt: tickValuesA, yt: tickValuesA, title: [410, 1587.7, 228], ylabelOff: 46, xlabelOff: 36 },
];

const fill = '#0a70dc';
const edge = '#0850a8';
const lineColor = '#0a6cb4';
const spine = '#4a4a4a';
const ink = '#333333';
const minus = (d: number) => String(d).replace('-', '\u2212');

export default function App() {
  const ref = useRef<SVGSVGElement>(null);

  useEffect(() => {
    const svg = d3.select(ref.current);
    svg.selectAll('*').remove();

    const defs = svg.append('defs');
    defs.append('filter').attr('id', 'soft').append('feGaussianBlur').attr('stdDeviation', 0.45);

    svg.append('rect').attr('x', 11.5).attr('y', 9.5).attr('width', 342).attr('height', 321)
      .attr('fill', '#f6f6f6').attr('stroke', '#9a9a9a').attr('stroke-width', 1);

    panels.forEach(p => {
      const [left, right, top, bottom] = p.box;
      const w = right - left;
      const tickSize = w * 0.05;
      const x = d3.scaleLinear().domain(p.xDom).range([left, right]);
      const y = d3.scaleLinear().domain(p.yDom).range([bottom, top]);
      const pts = expand(p.rows, p.loose);

      const g = svg.append('g').attr('filter', 'url(#soft)');
      g.append('rect').attr('x', left).attr('y', top).attr('width', w).attr('height', bottom - top).attr('fill', '#fff');

      const lo = Math.max(p.xDom[0], p.yDom[0]);
      const hi = Math.min(p.xDom[1], p.yDom[1]);
      const line = d3.line().x(d => x(d[0])).y(d => y(d[1]));
      g.append('path').attr('d', line([[lo, lo], [hi, hi]]))
        .attr('fill', 'none').attr('stroke', lineColor).attr('stroke-width', 1.8);

      // darker rim goes underneath so it only shows around the merged blobs
      g.append('g').selectAll('circle').data(pts).join('circle')
        .attr('cx', d => x(d[0])).attr('cy', d => y(d[1])).attr('r', w * 0.0172).attr('fill', edge);
      g.append('g').selectAll('circle').data(pts).join('circle')
        .attr('cx', d => x(d[0])).attr('cy', d => y(d[1])).attr('r', w * 0.0155).attr('fill', fill);

      const axisB = d3.axisBottom(x).tickValues(p.xt).tickSize(3.5).tickPadding(4).tickFormat(minus as any);
      const axisL = d3.axisLeft(y).tickValues(p.yt).tickSize(3.5).tickPadding(3).tickFormat(minus as any);
      for (const [axis, tr] of [[axisB, `translate(0,${bottom})`], [axisL, `translate(${left},0)`]] as any) {
        g.append('g').attr('transform', tr).call(axis)
          .call((a: any) => a.select('.domain').remove())
          .call((a: any) => a.selectAll('line').attr('stroke', spine).attr('stroke-width', 1))
          .call((a: any) => a.selectAll('text').attr('fill', ink)
            .attr('font-family', '"DejaVu Sans"').attr('font-size', tickSize));
      }

      g.append('rect').attr('x', left).attr('y', top).attr('width', w).attr('height', bottom - top)
        .attr('fill', 'none').attr('stroke', spine).attr('stroke-width', 1.3);

      g.append('text').attr('x', (left + right) / 2).attr('y', bottom + p.xlabelOff)
        .attr('dy', '0.35em').attr('text-anchor', 'middle').attr('fill', ink)
        .attr('font-family', '"DejaVu Sans"').attr('font-size', w * 0.046).text(xAxisLabel);

      if (p.ylabelOff) {
        g.append('text').attr('transform', `translate(${left - p.ylabelOff},${(top + bottom) / 2}) rotate(-90)`)
          .attr('dy', '0.35em').attr('text-anchor', 'middle').attr('fill', ink)
          .attr('font-family', '"DejaVu Sans"').attr('font-size', w * 0.0445).text(yAxisLabel);
      }

      svg.append('text').attr('x', p.title[0]).attr('y', p.title[1])
        .attr('textLength', p.title[2]).attr('lengthAdjust', 'spacingAndGlyphs')
        .attr('font-family', '"Open Sans"').attr('font-size', 22).attr('fill', '#1c1c1c')
        .attr('xml:space', 'preserve').style('white-space', 'pre').text(p.name);
    });
  }, []);

  return <svg ref={ref} width={1026} height={1595} style={{ position: 'absolute', left: 0, top: 0, background: '#fff' }} />;
}
